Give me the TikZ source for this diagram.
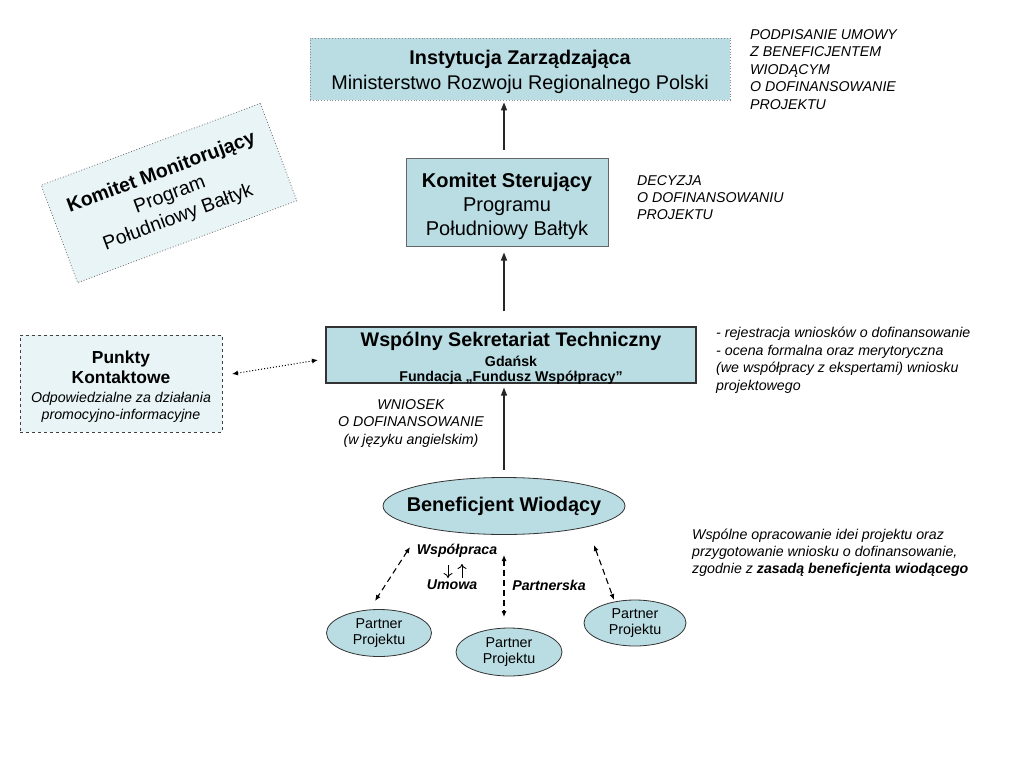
\documentclass[tikz,border=0pt]{standalone}
\usepackage{fontspec}
\setmainfont{Liberation Sans}
\usetikzlibrary{shapes.geometric,arrows.meta}
\definecolor{boxblue}{HTML}{B9DDE3}
\definecolor{paleblue}{HTML}{E8F4F6}
\begin{document}
\begin{tikzpicture}[x=1pt,y=-1pt,
		blbox/.style={fill=boxblue, align=center, inner sep=0pt},
		palebox/.style={fill=paleblue, align=center, inner sep=0pt},
		oval/.style={ellipse, draw=black!80, line width=0.8pt, fill=boxblue, align=center, inner sep=0pt},
		note/.style={font=\fontsize{14.2}{17.5}\selectfont\itshape, align=left, inner sep=0pt, anchor=north west},
		lbl/.style={font=\fontsize{14.2}{16}\selectfont\bfseries\itshape, inner sep=0pt},
		arr/.style={-{Triangle[length=8pt,width=6pt]}, line width=1.3pt, draw=black!85},
		dasharr/.style={{Latex[length=6pt,width=5pt]}-{Latex[length=6pt,width=5pt]}, dash pattern=on 6pt off 4pt, line width=1.1pt}]
		\useasboundingbox (0,0) rectangle (1024,768);
		\fill [white] (0,0) rectangle (1024,768);
		\coordinate (axis) at (504,0);
		% boxes
		\node [blbox, draw=black!45, dotted, line width=0.8pt, minimum width=420pt, minimum height=62pt, font=\fontsize{19.8}{25}\selectfont] (iz) at (520,69)
			{\rule{0pt}{20.5pt}{\bfseries Instytucja Zarządzająca}\\Ministerstwo Rozwoju Regionalnego Polski};
		\node [blbox, draw=black!60, line width=1pt, minimum width=202pt, minimum height=88pt, font=\fontsize{20}{24}\selectfont] (ks) at (507,202)
			{\rule{0pt}{23pt}\textbf{Komitet Sterujący}\\Programu\\Południowy Bałtyk};
		\node [blbox, draw=black!80, line width=1.2pt, inner ysep=-2.5pt, minimum width=370pt, minimum height=56pt, font=\fontsize{14.2}{15}\selectfont\bfseries] (wst) at (511,355)
			{\rule{0pt}{21pt}{\fontsize{19.7}{15}\selectfont Wspólny Sekretariat Techniczny}\\[5pt]Gdańsk\\Fundacja „Fundusz Współpracy”};
		\node [palebox, draw=black!75, dashed, line width=0.8pt, minimum width=202pt, minimum height=97pt, font=\fontsize{14.2}{17}\selectfont\itshape] (pk) at (121,383.5)
			{\rule{0pt}{19pt}{\upshape\bfseries\fontsize{17.4}{17}\selectfont Punkty}\\[3pt]{\upshape\bfseries\fontsize{17.4}{17}\selectfont Kontaktowe}\\[2pt]Odpowiedzialne za działania\\promocyjno-informacyjne};
		\node [palebox, draw=black!60, dotted, line width=0.8pt, rotate=20.5, minimum width=234pt, minimum height=104pt, font=\fontsize{19.5}{24}\selectfont] (km) at (169,193)
			{\rule{0pt}{19pt}\textbf{Komitet Monitorujący}\\Program\\Południowy Bałtyk};
		% ovals
		\node [oval, inner xsep=-12pt, minimum width=242pt, minimum height=57pt, font=\fontsize{19.9}{22}\selectfont\bfseries] (bw) at (504,506) {Beneficjent Wiodący};
		\node [oval, inner ysep=-2pt, minimum width=105pt, minimum height=47pt, font=\fontsize{14.3}{16.5}\selectfont] (pp1) at (379,633) {Partner\\Projektu};
		\node [oval, inner ysep=-2pt, minimum width=106pt, minimum height=48pt, font=\fontsize{14.3}{16.5}\selectfont] (pp2) at (509,652) {Partner\\Projektu};
		\node [oval, inner ysep=-2pt, minimum width=102pt, minimum height=46pt, font=\fontsize{14.3}{16.5}\selectfont] (pp3) at (635,623) {Partner\\Projektu};
		% main arrows
		\draw [arr, shorten <=8pt, shorten >=2pt] (ks.north -| axis) -- (iz.south -| axis);
		\draw [arr, shorten <=15pt, shorten >=6pt] (wst.north -| axis) -- (ks.south -| axis);
		\draw [arr, shorten <=7pt, shorten >=4pt] (bw.north -| axis) -- (wst.south -| axis);
		% dotted link
		\coordinate (pkr) at (232,374);
		\coordinate (wstl) at (318,360);
		\draw [{Latex[length=6pt,width=5pt]}-{Latex[length=6pt,width=5pt]}, dotted, line width=1pt] (pkr) -- (wstl);
		% partner links
		\coordinate (l1a) at (410,547);
		\coordinate (l1b) at (375,601);
		\coordinate (l2a) at (504,555);
		\coordinate (l2b) at (504,617);
		\coordinate (l3a) at (594,545);
		\coordinate (l3b) at (614,600);
		\draw [dasharr] (l1a) -- (l1b);
		\draw [dasharr] (l2a) -- (l2b);
		\draw [dasharr] (l3a) -- (l3b);
		\node [lbl] (wsp) at (457,551) {Współpraca};
		\node [lbl] (umo) at (452,585) {Umowa};
		\node [lbl] (par) at (549,585) {Partnerska};
		\coordinate (dna) at (448,565);
		\coordinate (dnb) at (448,578);
		\coordinate (upa) at (462,578);
		\coordinate (upb) at (462,564);
		\draw [-{To[length=5pt,width=9pt]}, line width=0.9pt] (dna) -- (dnb);
		\draw [-{To[length=5pt,width=9pt]}, line width=0.9pt] (upa) -- (upb);
		% notes
		\node [note] (n1) at (750,29) {PODPISANIE UMOWY\\Z BENEFICJENTEM\\WIODĄCYM\\O DOFINANSOWANIE\\PROJEKTU};
		\node [note, font=\fontsize{14.2}{17}\selectfont\itshape] (n2) at (637,175) {DECYZJA\\O DOFINANSOWANIU\\PROJEKTU};
		\node [note] (n3) at (716,327) {- rejestracja wniosków o dofinansowanie\\- ocena formalna oraz merytoryczna\\(we współpracy z ekspertami) wniosku\\projektowego};
		\node [note, anchor=north, align=center] (n4) at (411,399) {WNIOSEK\\O DOFINANSOWANIE\\(w języku angielskim)};
		\node [note, font=\fontsize{14.2}{17}\selectfont\itshape] (n5) at (692,529) {Wspólne opracowanie idei projektu oraz\\przygotowanie wniosku o dofinansowanie,\\zgodnie z \textbf{zasadą beneficjenta wiodącego}};
	\end{tikzpicture}
\end{document}
